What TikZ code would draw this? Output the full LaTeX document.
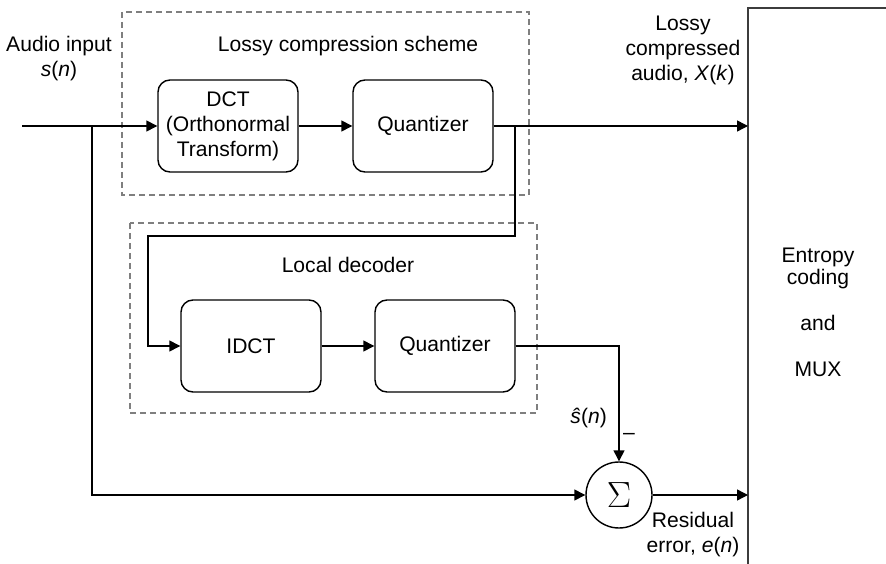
\documentclass[tikz,border=0pt]{standalone}
\usepackage{fontspec}
\setmainfont{Liberation Sans}
\usetikzlibrary{arrows.meta,positioning}
\definecolor{acInk}{HTML}{000000}
\definecolor{acFrame}{HTML}{7F7F7F}
\definecolor{acEdge}{HTML}{3C3C3C}
\newcommand{\acfont}{\fontsize{12}{14.2}\selectfont}
\tikzset{
  ac block/.style={
    draw=acInk,
    line width=.8pt,
    rounded corners=2.4mm,
    minimum width=28mm,
    minimum height=18.4mm,
    align=center,
    font=\acfont
  },
  ac group/.style={
    draw=acFrame,
    line width=.8pt,
    dash pattern=on 1.2mm off .8mm
  },
  ac signal/.style={
    draw=acInk,
    line width=.8pt,
    -{Triangle[length=2.2mm,width=2.2mm]}
  },
  ac frame/.style={draw=acEdge, line width=.9pt},
  ac sum/.style={circle, draw=acInk, line width=.8pt, minimum size=13.2mm, inner sep=0pt,
    font=\fontsize{20}{22}\selectfont},
  ac label/.style={font=\acfont, align=center, text=acInk}
}

\begin{document}
\begin{tikzpicture}[x=.2mm,y=-.2mm]
  \useasboundingbox (0,0) rectangle (886,564);
  \coordinate (in) at (22,126);
  \coordinate (tap) at (92,126);
  \coordinate (fork) at (515,126);
  \coordinate (turn) at (148,236);
  \coordinate (muxTop) at (748,126);
  \coordinate (muxBot) at (748,494);

  % dashed groups
  \draw[ac group] (122,12) rectangle (529,195);
  \draw[ac group] (130,223) rectangle (537,413);
  \node[ac label] (lossyTitle) at (348,46) {Lossy compression scheme};
  \node[ac label] (localTitle) at (348,265) {Local decoder};

  \node[ac block] (dct) at (228,126) {DCT\\(Orthonormal\\Transform)};
  \node[ac block] (quantA) at (423,126) {Quantizer};
  \node[ac block] (idct) at (251,346) {IDCT};
  \node[ac block] (quantB) at (445,346) {Quantizer};
  \node[ac sum] (sum) at (619,495) {$\Sigma$};

  % entropy coder runs off the page
  \draw[ac frame] (886,8) -- (748,8) -- (748,564);
  \node[ac label, font=\fontsize{12}{13}\selectfont] (mux) at (818,312)
    {Entropy\\coding\\[13pt]and\\[13pt]MUX};

  \draw[ac signal] (in) -- (dct);
  \draw[ac signal] (dct) -- (quantA);
  \draw[ac signal] (quantA) -- (muxTop);
  \draw[ac signal] (fork) |- (turn) |- (idct.west);
  \draw[ac signal] (idct) -- (quantB);
  \draw[ac signal] (quantB.east) -| (sum.north);
  \draw[ac signal] (tap) |- (sum.west);
  \draw[ac signal] (sum) -- (sum -| muxBot);

  \node[ac label] (audioIn) at (59,59) {Audio input\\\textit{s}(\textit{n})};
  \node[ac label] (lossyOut) at (683,50) {Lossy\\compressed\\audio, \textit{X}(\textit{k})};
  \node[ac label, anchor=east] (estimate) at (613,418) {\textit{ŝ}(\textit{n})};
  \node[ac label] (minus) at (629,436) {–};
  \node[ac label] (residual) at (693,535) {Residual\\error, \textit{e}(\textit{n})};
\end{tikzpicture}
\end{document}
